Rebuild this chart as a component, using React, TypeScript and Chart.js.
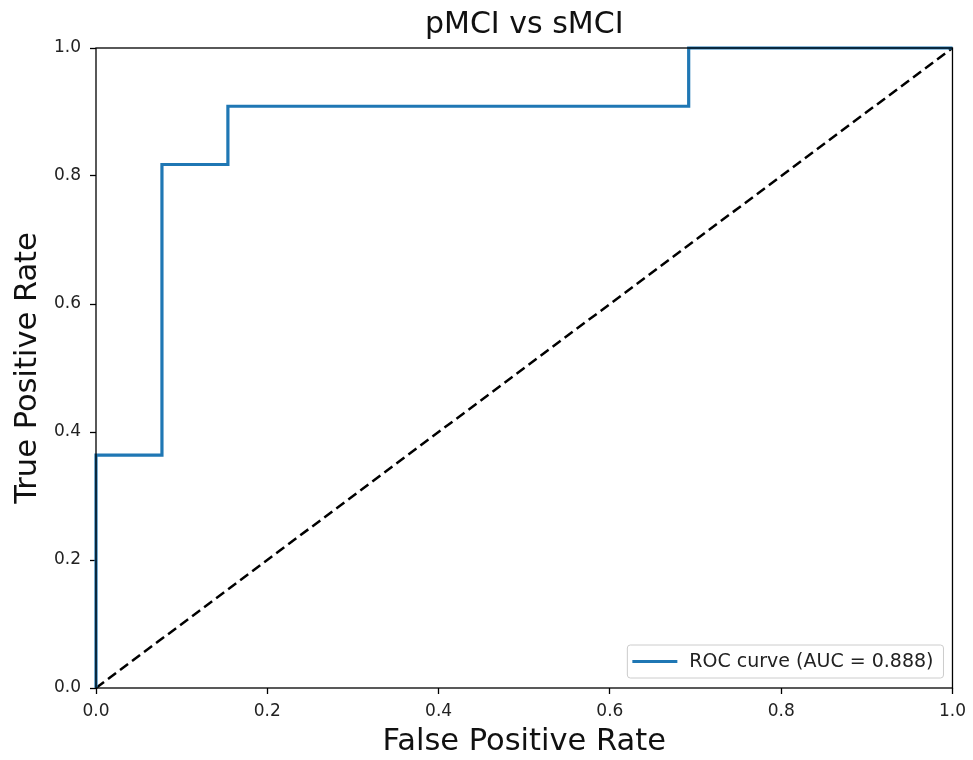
import React, { useEffect, useRef } from "react";
import { Chart, registerables } from "chart.js";

Chart.register(...registerables);

// ---- data ----
const fpr = [0, 0, 0.077, 0.077, 0.154, 0.154, 0.692, 0.692, 1.0];
const tpr = [0, 0.364, 0.364, 0.818, 0.818, 0.909, 0.909, 1.0, 1.0];
const chanceX = [0, 1];
const chanceY = [0, 1];
const tickValues = [0, 0.2, 0.4, 0.6, 0.8, 1.0];
const rocLabel = "ROC curve (AUC = 0.888)";
const titleText = "pMCI vs sMCI";
const xTitle = "False Positive Rate";
const yTitle = "True Positive Rate";

const FONT = '"DejaVu Sans", "Liberation Sans", sans-serif';
const ROC_COLOR = "#1f77b4";

const framePlugin = {
  id: "frame",
  afterDatasetsDraw(chart: any) {
    const { ctx, chartArea } = chart;
    const { left, top, right, bottom } = chartArea;
    ctx.save();
    ctx.strokeStyle = "#000";
    ctx.lineWidth = 1.3;
    ctx.strokeRect(left, top, right - left, bottom - top);
    ctx.restore();
  },
};

const insetLegendPlugin = {
  id: "insetLegend",
  afterDraw(chart: any) {
    const { ctx, chartArea } = chart;
    const ds = chart.data.datasets[0];
    ctx.save();
    ctx.font = `19px ${FONT}`;
    const textW = ctx.measureText(ds.label).width;
    const boxW = 62 + textW + 10;
    const boxH = 33;
    const x = chartArea.right - 9 - boxW;
    const y = chartArea.bottom - 10 - boxH;
    const r = 3;
    ctx.beginPath();
    ctx.moveTo(x + r, y);
    ctx.lineTo(x + boxW - r, y);
    ctx.quadraticCurveTo(x + boxW, y, x + boxW, y + r);
    ctx.lineTo(x + boxW, y + boxH - r);
    ctx.quadraticCurveTo(x + boxW, y + boxH, x + boxW - r, y + boxH);
    ctx.lineTo(x + r, y + boxH);
    ctx.quadraticCurveTo(x, y + boxH, x, y + boxH - r);
    ctx.lineTo(x, y + r);
    ctx.quadraticCurveTo(x, y, x + r, y);
    ctx.closePath();
    ctx.fillStyle = "rgba(255,255,255,0.8)";
    ctx.fill();
    ctx.strokeStyle = "#cccccc";
    ctx.lineWidth = 1;
    ctx.stroke();
    const cy = y + boxH / 2;
    ctx.beginPath();
    ctx.moveTo(x + 5, cy);
    ctx.lineTo(x + 50, cy);
    ctx.strokeStyle = ds.borderColor;
    ctx.lineWidth = 3;
    ctx.stroke();
    ctx.fillStyle = "#222";
    ctx.textBaseline = "middle";
    ctx.textAlign = "left";
    ctx.fillText(ds.label, x + 62, cy + 1);
    ctx.restore();
  },
};

export default function App() {
  const canvasRef = useRef<HTMLCanvasElement | null>(null);

  useEffect(() => {
    if (!canvasRef.current) return;
    const rocPoints = fpr.map((x, i) => ({ x, y: tpr[i] }));
    const chancePoints = chanceX.map((x, i) => ({ x, y: chanceY[i] }));

    const setTicks = (scale: any) => {
      scale.ticks = tickValues.map((v) => ({ value: v }));
    };

    const tickGrid: any = {
      display: true,
      drawOnChartArea: false,
      drawTicks: true,
      tickLength: 6,
      tickColor: "#000",
      tickWidth: 1.3,
    };

    const chart = new Chart(canvasRef.current, {
      type: "scatter",
      data: {
        datasets: [
          {
            label: rocLabel,
            data: rocPoints,
            showLine: true,
            borderColor: ROC_COLOR,
            backgroundColor: ROC_COLOR,
            borderWidth: 3.2,
            pointRadius: 0,
            pointHoverRadius: 0,
            tension: 0,
            clip: false as any,
          },
          {
            label: "chance",
            data: chancePoints,
            showLine: true,
            borderColor: "#000",
            backgroundColor: "#000",
            borderWidth: 2.5,
            borderDash: [10, 5],
            pointRadius: 0,
            pointHoverRadius: 0,
            clip: false as any,
          },
        ],
      },
      options: {
        responsive: false,
        animation: false,
        events: [],
        layout: { padding: { top: 0, right: 19, bottom: 0, left: 0 } },
        plugins: {
          legend: { display: false },
          tooltip: { enabled: false },
          title: { display: false },
        },
        scales: {
          xTop: {
            type: "linear",
            position: "top",
            min: 0,
            max: 1,
            afterFit: (scale: any) => {
              scale.height = 48;
            },
            ticks: { display: false },
            grid: { display: false, drawTicks: false },
            border: { display: false },
            title: {
              display: true,
              text: titleText,
              color: "#111",
              font: { family: FONT, size: 30, lineHeight: 1.2 },
              padding: { top: 7.5, bottom: 0 },
            },
          },
          x: {
            type: "linear",
            position: "bottom",
            min: 0,
            max: 1,
            afterBuildTicks: setTicks,
            afterFit: (scale: any) => {
              scale.height = 72;
            },
            ticks: {
              color: "#222",
              font: { family: FONT, size: 17 },
              padding: 7,
              maxRotation: 0,
              callback: (v: any) => Number(v).toFixed(1),
            },
            grid: tickGrid,
            border: { display: false },
            title: {
              display: true,
              text: xTitle,
              color: "#111",
              font: { family: FONT, size: 30.5, lineHeight: 1.2 },
              padding: { top: 0, bottom: 0 },
            },
          },
          y: {
            type: "linear",
            min: 0,
            max: 1,
            afterBuildTicks: setTicks,
            afterFit: (scale: any) => {
              scale.width = 96;
            },
            ticks: {
              color: "#222",
              font: { family: FONT, size: 17 },
              padding: 9,
              callback: (v: any) => Number(v).toFixed(1),
            },
            grid: tickGrid,
            border: { display: false },
            title: {
              display: true,
              text: yTitle,
              color: "#111",
              font: { family: FONT, size: 30.5, lineHeight: 1.2 },
              padding: { top: 10, bottom: 0 },
            },
          },
        },
      },
      plugins: [framePlugin, insetLegendPlugin],
    });

    return () => {
      chart.destroy();
    };
  }, []);

  return (
    <div
      style={{
        position: "absolute",
        left: 0,
        top: 0,
        width: 973,
        height: 760,
        background: "#fff",
      }}
    >
      <canvas
        ref={canvasRef}
        width={973}
        height={760}
        style={{ display: "block", width: 973, height: 760 }}
      />
    </div>
  );
}
